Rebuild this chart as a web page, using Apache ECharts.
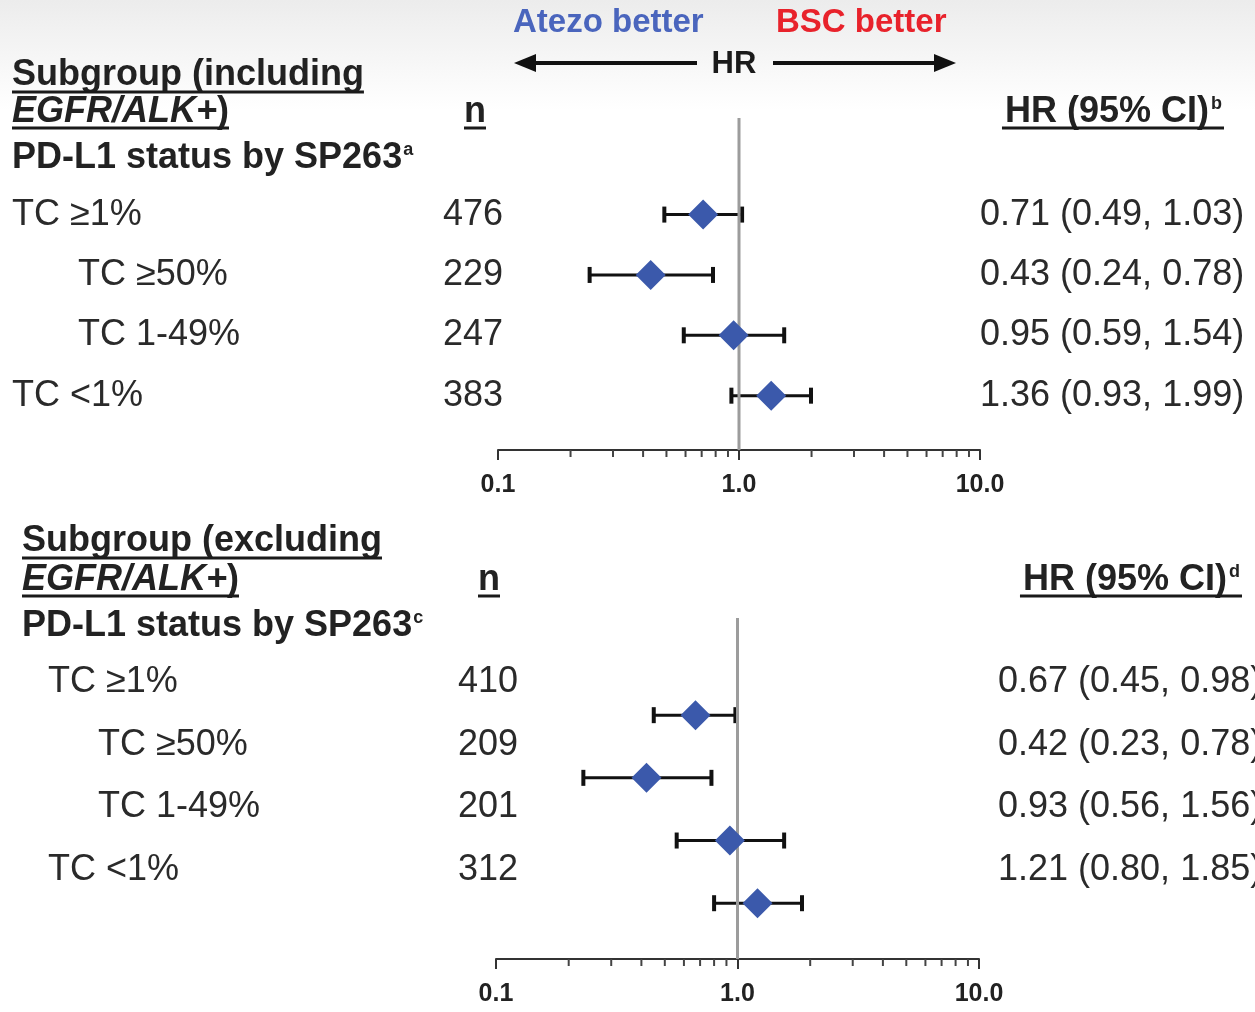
<!DOCTYPE html>
<html><head><meta charset="utf-8">
<script src="https://cdn.jsdelivr.net/npm/echarts@6/dist/echarts.min.js"></script>
<style>html,body{margin:0;padding:0;background:#fff}#c{width:1255px;height:1012px}</style>
</head><body><div id="c"></div>
<script>
// ---------- DATA ----------
const rowLabels = ['TC \u22651%', 'TC \u226550%', 'TC 1-49%', 'TC <1%'];
const rowIndent = [0, 1, 1, 0];
const incN  = [476, 229, 247, 383];
const incHR = [0.71, 0.43, 0.95, 1.36];
const incLo = [0.49, 0.24, 0.59, 0.93];
const incHi = [1.03, 0.78, 1.54, 1.99];
const excN  = [410, 209, 201, 312];
const excHR = [0.67, 0.42, 0.93, 1.21];
const excLo = [0.45, 0.23, 0.56, 0.80];
const excHi = [0.98, 0.78, 1.56, 1.85];
const tickValues = [0.1, 1, 10];
const tickLabels = ['0.1', '1.0', '10.0'];
const minorTicks = [0.2, 0.3, 0.4, 0.5, 0.6, 0.7, 0.8, 0.9, 2, 3, 4, 5, 6, 7, 8, 9];
const refValue = 1;

// ---------- LAYOUT / STYLE ----------
const FAM = '"Liberation Sans", Arial, sans-serif';
const ROWFONT = '36px ' + FAM;
const HFONT = 'bold 36px ' + FAM;
const HIFONT = 'italic bold 36px ' + FAM;
const SUPFONT = 'bold 18px ' + FAM;
const TXT = '#222';
const BLUE = '#3b59ab';

const panels = [
  { grid: {left: 498, width: 482, top: 118, height: 332}, yMin: -1.6, yMax: 3.9,
    n: incN, hr: incHR, lo: incLo, hi: incHi, textDy: 0, xLabel: [12, 78], xN: 443, xHR: 980 },
  { grid: {left: 496, width: 483, top: 618, height: 341}, yMin: -1.55, yMax: 3.89,
    n: excN, hr: excHR, lo: excLo, hi: excHi, textDy: -33, xLabel: [48, 98], xN: 458, xHR: 998 }
];

const mctx = document.createElement('canvas').getContext('2d');
function tw(text, font) { mctx.font = font; return mctx.measureText(text).width; }
function fmt(v) { return v.toFixed(2); }

const grids = [], xAxes = [], yAxes = [], series = [];
panels.forEach((p, k) => {
  grids.push(Object.assign({outerBoundsMode: 'none', containLabel: false}, p.grid));
  xAxes.push({
    type: 'log', logBase: 10, min: 0.1, max: 10, gridIndex: k, position: 'bottom',
    axisLine: {show: true, onZero: false, lineStyle: {color: '#333', width: 2}},
    axisTick: {show: true, length: 10, lineStyle: {color: '#333', width: 2}},
    splitLine: {show: false}, minorTick: {show: false},
    axisLabel: {
      show: true, margin: 23, fontSize: 25, fontWeight: 'bold', color: TXT, fontFamily: FAM,
      showMinLabel: true, showMaxLabel: true,
      formatter: v => {
        const i = tickValues.findIndex(t => Math.abs(t - v) < 1e-6 * Math.max(1, t));
        return i >= 0 ? tickLabels[i] : '';
      }
    }
  });
  yAxes.push({type: 'value', gridIndex: k, min: p.yMin, max: p.yMax, inverse: true, show: false});

  const idx = {xAxisIndex: k, yAxisIndex: k};
  // whiskers
  series.push(Object.assign({
    type: 'custom', z: 1, silent: true,
    data: p.lo.map((l, i) => [l, p.hi[i], i]),
    encode: {x: [0, 1], y: 2},
    renderItem: (params, api) => {
      const a = api.coord([api.value(0), api.value(2)]);
      const b = api.coord([api.value(1), api.value(2)]);
      const st = {stroke: '#111', lineWidth: 3};
      const cs = {stroke: '#111', lineWidth: 4};
      return {type: 'group', children: [
        {type: 'line', shape: {x1: a[0], y1: a[1], x2: b[0], y2: b[1]}, style: st},
        {type: 'line', shape: {x1: a[0], y1: a[1] - 8, x2: a[0], y2: a[1] + 8}, style: cs},
        {type: 'line', shape: {x1: b[0], y1: b[1] - 8, x2: b[0], y2: b[1] + 8}, style: cs}
      ]};
    }
  }, idx));
  // reference line at HR = 1
  series.push(Object.assign({
    type: 'custom', z: 2, silent: true,
    data: [[refValue]], encode: {x: 0},
    renderItem: (params, api) => {
      const a = api.coord([api.value(0), p.yMin]);
      const b = api.coord([api.value(0), p.yMax]);
      return {type: 'line', shape: {x1: a[0], y1: a[1], x2: b[0], y2: b[1]},
              style: {stroke: '#9c9c9c', lineWidth: 3}};
    }
  }, idx));
  // minor ticks
  series.push(Object.assign({
    type: 'custom', z: 2, silent: true,
    data: minorTicks.map(v => [v]), encode: {x: 0},
    renderItem: (params, api) => {
      const a = api.coord([api.value(0), p.yMax]);
      return {type: 'line', shape: {x1: a[0], y1: a[1], x2: a[0], y2: a[1] + 7},
              style: {stroke: '#444', lineWidth: 2}};
    }
  }, idx));
  // diamonds
  series.push(Object.assign({
    type: 'scatter', z: 3, silent: true, symbol: 'diamond', symbolSize: [30, 30],
    itemStyle: {color: BLUE, opacity: 1},
    data: p.hr.map((h, i) => [h, i])
  }, idx));
  // row texts
  series.push(Object.assign({
    type: 'custom', z: 3, silent: true, clip: false,
    data: p.hr.map((h, i) => [h, i]), encode: {x: 0, y: 1},
    renderItem: (params, api) => {
      const i = params.dataIndex;
      const y = api.coord([1, api.value(1)])[1] + p.textDy;
      const hrText = fmt(p.hr[i]) + ' (' + fmt(p.lo[i]) + ', ' + fmt(p.hi[i]) + ')';
      const mk = (text, x) => ({type: 'text', x: x, y: y,
        style: {text: text, font: ROWFONT, fill: '#2a2a2a', verticalAlign: 'middle', align: 'left'}});
      return {type: 'group', children: [
        mk(rowLabels[i], p.xLabel[rowIndent[i]]),
        mk(String(p.n[i]), p.xN),
        mk(hrText, p.xHR)
      ]};
    }
  }, idx));
});

// ---------- HEADER GRAPHICS ----------
const g = [];
g.push({type: 'rect', z: -10, shape: {x: 0, y: 0, width: 1255, height: 110},
  style: {fill: {type: 'linear', x: 0, y: 0, x2: 0, y2: 1,
    colorStops: [{offset: 0, color: '#ececec'}, {offset: 1, color: '#ffffff'}]}}});
function txt(text, x, y, font, fill, align) {
  g.push({type: 'text', x: x, y: y, z: 10,
    style: {text: text, font: font, fill: fill || TXT, verticalAlign: 'middle', align: align || 'left'}});
}
function uline(x1, x2, y) {
  g.push({type: 'line', z: 10, shape: {x1: x1, y1: y, x2: x2, y2: y}, style: {stroke: '#1a1a1a', lineWidth: 3}});
}
function headerBlock(x0, y1, y2, y3, nx, hrRight, supPD, supHR, word) {
  const t1 = 'Subgroup (' + word;
  txt(t1, x0, y1, HFONT);
  uline(x0, x0 + tw(t1, HFONT), y1 + 17);
  const eg = 'EGFR/ALK+';
  txt(eg, x0, y2, HIFONT);
  const wEg = tw(eg, HIFONT);
  txt(')', x0 + wEg, y2, HFONT);
  uline(x0, x0 + wEg + tw(')', HFONT), y2 + 16);
  txt('n', nx, y2, HFONT);
  uline(nx, nx + tw('n', HFONT), y2 + 16);
  const pd = 'PD-L1 status by SP263';
  txt(pd, x0, y3, HFONT);
  txt(supPD, x0 + tw(pd, HFONT) + 1, y3 - 8, SUPFONT);
  const hr = 'HR (95% CI)';
  const wSup = tw(supHR, SUPFONT);
  const wHr = tw(hr, HFONT);
  const hx = hrRight - wSup - 2 - wHr;
  txt(hr, hx, y2, HFONT);
  txt(supHR, hx + wHr + 2, y2 - 8, SUPFONT);
  uline(hx - 3, hrRight + 2, y2 + 16);
}
headerBlock(12, 75, 112, 158, 464, 1222, 'a', 'b', 'including');
headerBlock(22, 541, 580, 626, 478, 1240, 'c', 'd', 'excluding');

// top direction labels & arrows
txt('Atezo better', 513, 23, 'bold 33px ' + FAM, '#4a65bd');
txt('BSC better', 776, 23, 'bold 33px ' + FAM, '#e8222b');
txt('HR', 734, 64, 'bold 31px ' + FAM, '#1a1a1a', 'center');
g.push({type: 'line', z: 10, shape: {x1: 530, y1: 63, x2: 697, y2: 63}, style: {stroke: '#111', lineWidth: 4}});
g.push({type: 'polygon', z: 10, shape: {points: [[514, 63], [536, 54], [536, 72]]}, style: {fill: '#111'}});
g.push({type: 'line', z: 10, shape: {x1: 773, y1: 63, x2: 940, y2: 63}, style: {stroke: '#111', lineWidth: 4}});
g.push({type: 'polygon', z: 10, shape: {points: [[956, 63], [934, 54], [934, 72]]}, style: {fill: '#111'}});

const chart = echarts.init(document.getElementById('c'), null, {renderer: 'canvas'});
chart.setOption({
  animation: false,
  backgroundColor: '#ffffff',
  grid: grids, xAxis: xAxes, yAxis: yAxes, series: series, graphic: g
});
</script></body></html>
